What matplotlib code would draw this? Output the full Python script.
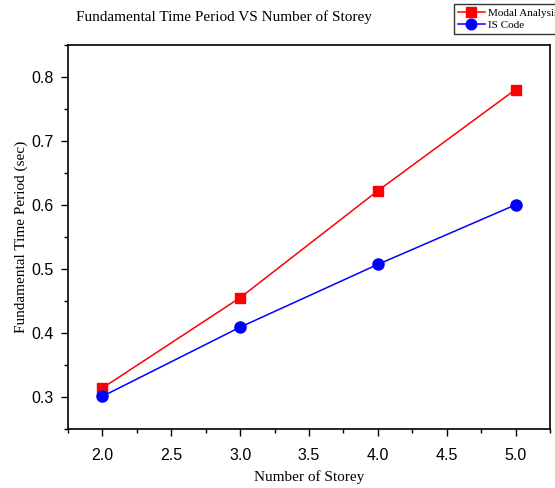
import matplotlib
matplotlib.use("Agg")
import matplotlib.pyplot as plt
from matplotlib.ticker import MultipleLocator

storeys = [2, 3, 4, 5]
modal = [0.314, 0.455, 0.622, 0.780]
is_code = [0.301, 0.409, 0.507, 0.600]

serif = "Liberation Serif"
sans = "Liberation Sans"

fig = plt.figure(figsize=(5.55, 4.88), dpi=100)
ax = fig.add_axes([68/555, 1-429/488, (550-68)/555, (429-44.7)/488])

ax.plot(storeys, modal, color="red", marker="s", markersize=7.5, lw=1.1, label="Modal Analysis")
ax.plot(storeys, is_code, color="blue", marker="o", markersize=8, lw=1.1, label="IS Code")

ax.set_xlim(1.75, 5.25)
ax.set_ylim(0.25, 0.85)
ax.xaxis.set_major_locator(MultipleLocator(0.5))
ax.xaxis.set_minor_locator(MultipleLocator(0.25))
ax.yaxis.set_major_locator(MultipleLocator(0.1))
ax.yaxis.set_minor_locator(MultipleLocator(0.05))
ax.xaxis.set_major_formatter(plt.FormatStrFormatter("%.1f"))
ax.yaxis.set_major_formatter(plt.FormatStrFormatter("%.1f"))
ax.tick_params(which="major", direction="out", length=5, width=1, labelsize=11.5)
ax.tick_params(axis="x", which="major", pad=9)
ax.tick_params(axis="y", which="major", pad=5)
ax.tick_params(which="minor", direction="out", length=3, width=1)
for lbl in ax.get_xticklabels() + ax.get_yticklabels():
    lbl.set_fontfamily(sans)
for s in ax.spines.values():
    s.set_linewidth(1.2)

ax.set_xlabel("Number of Storey", fontfamily=serif, fontsize=11, labelpad=5)
ax.set_ylabel("Fundamental Time Period (sec)", fontfamily=serif, fontsize=11, labelpad=3)
fig.text(224/555, 1-17/488, "Fundamental Time Period VS Number of Storey",
         fontfamily=serif, fontsize=11, ha="center", va="center")

leg = fig.legend(loc="upper left", bbox_to_anchor=(454/555, 1-4/488),
                 prop={"family": serif, "size": 8}, frameon=True, fancybox=False,
                 edgecolor="black", borderpad=0.35, labelspacing=0.2,
                 handlelength=2.4, handletextpad=0.3, borderaxespad=0, markerscale=0.95)
leg.get_frame().set_linewidth(1.0)

fig.savefig("out.png", dpi=100)
